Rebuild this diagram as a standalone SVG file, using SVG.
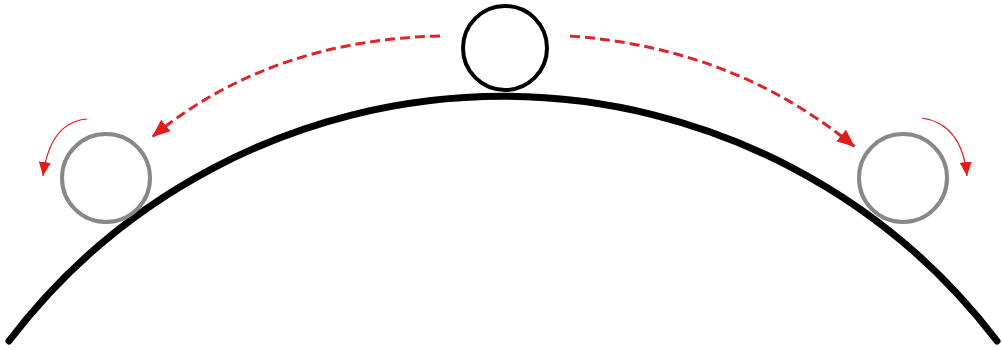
<svg xmlns="http://www.w3.org/2000/svg" width="1002" height="350" viewBox="0 0 1002 350">
<style>
.ground{fill:none;stroke:#000;stroke-width:7;stroke-linecap:round}
.ball{fill:#fff;stroke:#000;stroke-width:4}
.ghost{fill:#fff;stroke:#888;stroke-width:4}
.move{fill:none;stroke:#dd2428;stroke-width:3;stroke-dasharray:10 5}
.spin{fill:none;stroke:#e31b1b;stroke-width:1.2}
</style>
<defs>
<marker id="big" markerUnits="userSpaceOnUse" markerWidth="20" markerHeight="16" refX="18" refY="7.5" orient="auto">
<path d="M0,0 L18,7.5 L0,15 Z" fill="#e31b1b"/>
</marker>
<marker id="small" markerUnits="userSpaceOnUse" markerWidth="16" markerHeight="14" refX="14" refY="6" orient="auto">
<path d="M0,0 L14,6 L0,12 Z" fill="#e31b1b"/>
</marker>
</defs>
<g id="ground"><path class="ground" d="M9,341 A621,621 0 0 1 997,341"/></g>
<g id="ball-top"><circle class="ball" cx="505" cy="48" r="42"/></g>
<g id="ball-left"><circle class="ghost" cx="106" cy="178" r="44"/></g>
<g id="ball-right"><circle class="ghost" cx="903" cy="178" r="44"/></g>
<g id="connectors">
<path class="move" d="M440,36 Q270,40 152,137" marker-end="url(#big)"/>
<path class="move" d="M570,36 Q735,48 855,147" marker-end="url(#big)"/>
<path class="spin" d="M87,119 Q50,122 43,176" marker-end="url(#small)"/>
<path class="spin" d="M922,118 Q962,124 967,176" marker-end="url(#small)"/>
</g>
</svg>
